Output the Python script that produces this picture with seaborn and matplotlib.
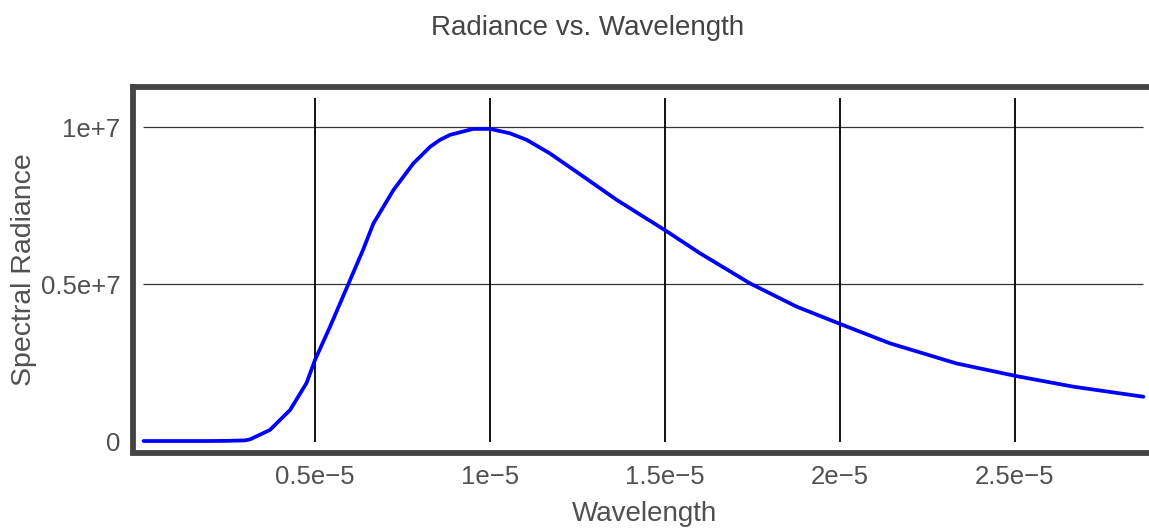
import numpy as np
import pandas as pd
import matplotlib
matplotlib.use("Agg")
import matplotlib.pyplot as plt
import seaborn as sns

# Data (wavelength in micrometres, radiance in 1e6 units)
wavelength_um = [0.1, 1.0, 2.0, 2.5, 3.0, 3.14, 3.71, 4.29, 4.76, 5.0, 5.43, 5.95,
                 6.37, 6.67, 7.24, 7.81, 8.29, 8.57, 8.86, 9.52, 10.0, 10.57, 11.05,
                 11.71, 12.67, 13.62, 15.02, 16.0, 17.43, 18.76, 20.0, 21.43, 23.33,
                 25.03, 26.67, 28.67]
radiance_1e6 = [0.0, 0.0, 0.0, 0.005, 0.02, 0.05, 0.35, 0.99, 1.85, 2.58, 3.64, 4.99,
                6.08, 6.93, 7.99, 8.84, 9.37, 9.59, 9.75, 9.94, 9.94, 9.80, 9.59,
                9.16, 8.42, 7.68, 6.70, 5.98, 5.02, 4.28, 3.73, 3.11, 2.47,
                2.07, 1.73, 1.41]

x_ticks = [0.5e-5, 1e-5, 1.5e-5, 2e-5, 2.5e-5]
x_tick_labels = ["0.5e\u22125", "1e\u22125", "1.5e\u22125", "2e\u22125", "2.5e\u22125"]
y_ticks = [0, 5e6, 1e7]
y_tick_labels = ["0", "0.5e+7", "1e+7"]
grid_y = [5e6, 1e7]

df = pd.DataFrame({
    "Wavelength": np.array(wavelength_um) * 1e-6,
    "Spectral Radiance": np.array(radiance_1e6) * 1e6,
})

sns.set_style("white")
plt.rcParams["font.family"] = ["Liberation Sans", "DejaVu Sans"]

W, H = 1149, 529
fig = plt.figure(figsize=(W / 100, H / 100), dpi=100)
ax_left, ax_right = 133, 1149
ax_top, ax_bot = 86.5, 452.5
ax = fig.add_axes([ax_left / W, 1 - ax_bot / H, (ax_right - ax_left) / W, (ax_bot - ax_top) / H])

sns.lineplot(data=df, x="Wavelength", y="Spectral Radiance", ax=ax,
             color="#0000ff", linewidth=2.7, zorder=3, sort=False)

xmin_d, xmax_d = df["Wavelength"].min(), df["Wavelength"].max()
ymin_d, ymax_d = df["Spectral Radiance"].min(), df["Spectral Radiance"].max()

ax.hlines(grid_y, xmin_d, xmax_d, color="#333333", linewidth=0.9, zorder=1)
ax.vlines(x_ticks, ymin_d - 0.03e6, 1.1 * ymax_d, color="black", linewidth=1.3, zorder=1)

ax.set_xlim(-0.2e-6, 28.83e-6)
ax.set_ylim(-0.366e6, 11.29e6)

ax.set_xticks(x_ticks)
ax.set_xticklabels(x_tick_labels)
ax.set_yticks(y_ticks)
ax.set_yticklabels(y_tick_labels)
ax.tick_params(axis="both", length=0, pad=9, labelsize=18.5, labelcolor="#505050")

for side in ["left", "top", "bottom"]:
    ax.spines[side].set_color("#444444")
    ax.spines[side].set_linewidth(4.2)
ax.spines["right"].set_visible(False)

ax.set_xlabel("Wavelength", fontsize=20, color="#505050")
ax.set_ylabel("Spectral Radiance", fontsize=20.5, color="#505050")
ax.xaxis.set_label_coords((644 - ax_left) / (ax_right - ax_left), -(501 - ax_bot) / (ax_bot - ax_top))
ax.yaxis.set_label_coords(-(ax_left - 37) / (ax_right - ax_left), 0.5)

fig.text(588 / W, 1 - 35 / H, "Radiance vs. Wavelength", ha="center", va="baseline",
         fontsize=20, color="#444444")

fig.savefig("out.png", dpi=100)
